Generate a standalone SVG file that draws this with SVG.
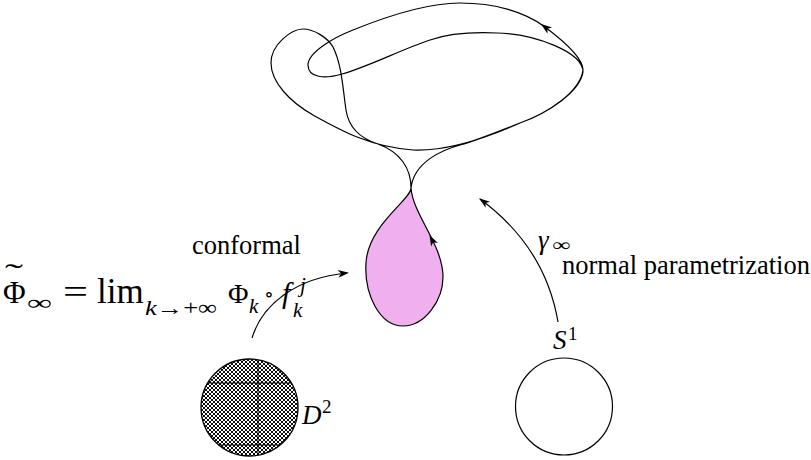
<svg xmlns="http://www.w3.org/2000/svg" xmlns:xlink="http://www.w3.org/1999/xlink" width="811" height="460" viewBox="0 0 811 460">
<style>
.ln{fill:none;stroke:#000;stroke-width:1.2;stroke-linejoin:round}
.t{font-family:"Liberation Serif","DejaVu Serif",serif;fill:#000}
.i{font-style:italic}
</style>
<defs>
<path id="ah" d="M0,0 L-11,-3.8 L-8,0 L-11,3.8 Z" fill="#000"/>
<pattern id="xh" patternUnits="userSpaceOnUse" width="4" height="4">
<path d="M-1,-1 L5,5 M5,-1 L-1,5" stroke="#000" stroke-width="0.95"/>
</pattern>
<clipPath id="dclip"><circle cx="249.5" cy="407.5" r="48.5"/></clipPath>
</defs>
<g id="curve-gamma">
<path d="M411,188 C411,200 368,225 366,263 C364,295 380,326 403,326 C425,326 443,300 443,277 C443,245 413,215 411,188 Z" fill="#f0b0f0" stroke="none"/>
<path class="ln" d="M411,188 C411,168 400,152 378,144 C362,139 349,130 346,110 C343,90 342,65 333,47 C328,38 314,29 303,29 C292,29 271,44 271,63 C271,82 290,102 313,115 C340,130 370,147 413,150 C440,151 475,143 520,123 C548,113 580,92 583,70 C583,58 565,42 545,27 C525,12 495,3 460,3 C430,3 390,15 353,30 C335,37 308,52 308,65 C308,78 325,79 342,74 C370,66 400,50 430,40 C450,33 475,32 497,33 C535,34 583,52 583,72 C580,92 548,113 520,123 C500,131 478,140 460,145 C442,150 414,162 411,188 C411,200 368,225 366,263 C364,295 380,326 403,326 C425,326 443,300 443,277 C443,245 413,215 411,188 Z"/>
<use xlink:href="#ah" transform="translate(541,24) rotate(-143)"/>
<use xlink:href="#ah" transform="translate(429.5,235) rotate(-117)"/>
</g>
<g id="disk-D2">
<circle cx="249.5" cy="407.5" r="48.5" fill="url(#xh)" stroke="#000" stroke-width="1.3"/>
<g clip-path="url(#dclip)" stroke="#000" stroke-width="1">
<line x1="195" y1="383" x2="305" y2="383"/>
<line x1="258" y1="355" x2="258" y2="460"/>
<line x1="195" y1="445" x2="305" y2="445"/>
</g>
<text class="t i" x="302" y="424" font-size="27">D</text>
<text class="t" x="322" y="413" font-size="19">2</text>
</g>
<g id="circle-S1">
<circle cx="564" cy="406.5" r="48.5" fill="none" stroke="#000" stroke-width="1.2"/>
<text class="t i" x="553" y="349" font-size="27">S</text>
<text class="t" x="568" y="340" font-size="19">1</text>
</g>
<g id="connectors">
<path class="ln" d="M252,338 C262,305 295,278 347,273"/>
<use xlink:href="#ah" transform="translate(349,272.8) rotate(-5.5)"/>
<path class="ln" d="M558,322 C550,275 525,232 480,199"/>
<use xlink:href="#ah" transform="translate(479,198.3) rotate(-143.7)"/>
</g>
<g id="labels">
<text class="t" x="192" y="254" font-size="26.5">conformal</text>
<text class="t" x="562" y="274" font-size="26.5">normal parametrization</text>
<text class="t i" x="538" y="249" font-size="27">γ</text>
<text class="t" x="552" y="251" font-size="18" textLength="18" lengthAdjust="spacingAndGlyphs">∞</text>
<text class="t" x="3" y="303" font-size="31">Φ</text>
<text class="t" transform="translate(14,284) scale(1.8,1)" font-size="30" text-anchor="middle">˜</text>
<text class="t" x="27" y="310" font-size="22" textLength="25" lengthAdjust="spacingAndGlyphs">∞</text>
<text class="t" x="63" y="303" font-size="33" textLength="25" lengthAdjust="spacingAndGlyphs">=</text>
<text class="t" x="97" y="303" font-size="35">lim</text>
<text class="t" x="145" y="315" font-size="22" textLength="72" lengthAdjust="spacingAndGlyphs"><tspan class="i">k</tspan>→+∞</text>
<text class="t" x="228" y="303" font-size="28">Φ</text>
<text class="t i" x="249" y="313" font-size="21">k</text>
<text class="t" x="264" y="301" font-size="20">∘</text>
<text class="t i" x="282" y="303" font-size="30">f</text>
<text class="t i" x="293" y="317" font-size="21">k</text>
<text class="t i" x="300" y="292" font-size="21">j</text>
</g>
</svg>
